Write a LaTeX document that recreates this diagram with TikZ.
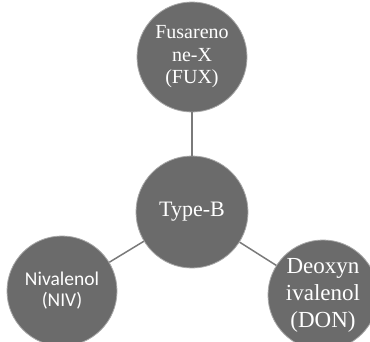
\documentclass[tikz,border=0pt]{standalone}
\usepackage{fontspec}
\setmainfont{Liberation Serif}
\newfontfamily\calib{Carlito}
\definecolor{discfill}{HTML}{6B6B6B}
\definecolor{linkgray}{HTML}{7A7A7A}
\definecolor{ringgray}{HTML}{A8A8A8}
\tikzset{
  disc/.style={circle, fill=discfill, draw=ringgray, line width=0.8pt, minimum size=110pt, inner sep=0pt, text=white, align=center},
  link/.style={draw=linkgray, line width=1.5pt}
}
\begin{document}
\begin{tikzpicture}[x=1pt,y=-1pt]
\useasboundingbox (0,0) rectangle (370,341);
\begin{scope}
\clip (0,0) rectangle (370,341);
\node[disc, font=\fontsize{20}{22.5}\selectfont] (fux) at (192,57) {Fusareno\\ne-X\\(FUX)};
\node[disc, minimum size=112pt, font=\fontsize{22}{25}\selectfont] (typeb) at (192,212) {Type-B};
\node[disc, font=\calib\fontsize{19.5}{21}\selectfont] (niv) at (62,291) {Nivalenol\\(NIV)};
\node[disc, font=\fontsize{23}{27}\selectfont] (don) at (323,295) {Deoxyn\\ivalenol\\(DON)};
\draw[link] (typeb) -- (fux);
\draw[link] (typeb) -- (niv);
\draw[link] (typeb) -- (don);
\end{scope}
\end{tikzpicture}
\end{document}
